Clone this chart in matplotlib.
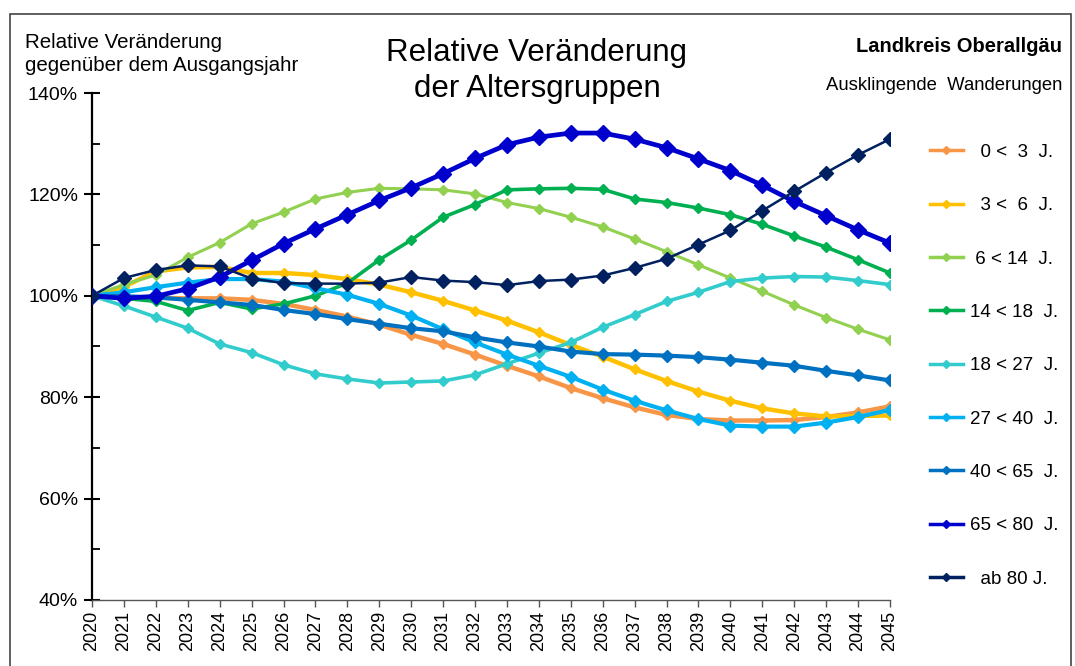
import numpy as np
import matplotlib
matplotlib.use("Agg")
import matplotlib.pyplot as plt
from matplotlib.ticker import MultipleLocator, FuncFormatter
from matplotlib.patches import Rectangle

plt.rcParams['font.family'] = ['Liberation Sans', 'DejaVu Sans']

years = list(range(2020, 2046))

# Relative Veränderung in % (Ausgangsjahr 2020 = 100 %)
a_0_3 = [100, 99.8, 99.6, 99.5, 99.5, 99.2, 98.4, 97.2, 95.9, 94.3, 92.3, 90.5, 88.4,
         86.2, 84.1, 81.8, 79.8, 78.0, 76.5, 75.7, 75.4, 75.4, 75.5, 76.1, 77.0, 78.2]
a_3_6 = [100, 101.8, 104.8, 105.6, 105.7, 104.5, 104.5, 104.1, 103.3, 102.2, 100.7, 99.0, 97.1,
         95.1, 92.8, 90.3, 88.0, 85.5, 83.2, 81.1, 79.3, 77.8, 76.8, 76.2, 76.3, 76.4]
a_6_14 = [100, 102.2, 104.1, 107.6, 110.5, 114.2, 116.5, 119.1, 120.4, 121.2, 121.1, 120.9, 120.1,
          118.4, 117.2, 115.5, 113.6, 111.2, 108.7, 106.1, 103.5, 100.9, 98.2, 95.7, 93.4, 91.3]
a_14_18 = [100, 99.5, 98.9, 97.1, 98.7, 97.4, 98.4, 100.0, 102.5, 107.1, 111.0, 115.5, 118.0,
           120.9, 121.1, 121.2, 121.0, 119.1, 118.4, 117.3, 116.0, 114.1, 111.8, 109.6, 107.1, 104.5]
a_18_27 = [100, 98.0, 95.8, 93.6, 90.5, 88.8, 86.4, 84.6, 83.6, 82.8, 83.0, 83.2, 84.4,
           86.6, 88.7, 90.8, 93.8, 96.3, 98.9, 100.7, 102.8, 103.5, 103.8, 103.7, 103.0, 102.2]
a_27_40 = [100, 100.7, 101.7, 102.6, 103.3, 103.3, 102.8, 101.5, 100.2, 98.4, 96.1, 93.4, 90.8,
           88.4, 86.2, 84.0, 81.5, 79.3, 77.4, 75.7, 74.4, 74.2, 74.2, 75.0, 76.1, 77.5]
a_40_65 = [100, 99.9, 99.7, 99.2, 98.7, 98.2, 97.2, 96.4, 95.4, 94.5, 93.6, 93.0, 91.8,
           90.8, 90.0, 89.0, 88.5, 88.4, 88.2, 87.9, 87.4, 86.8, 86.2, 85.2, 84.3, 83.3]
a_65_80 = [100, 99.5, 99.9, 101.4, 103.7, 107.0, 110.3, 113.2, 116.0, 118.8, 121.3, 124.1, 127.1,
           129.8, 131.3, 132.1, 132.1, 130.9, 129.2, 127.0, 124.7, 121.8, 118.6, 115.8, 113.0, 110.4]
a_80 = [100, 103.5, 105.1, 106.0, 105.8, 103.4, 102.5, 102.4, 102.4, 102.6, 103.7, 103.0, 102.7,
        102.1, 102.9, 103.2, 104.0, 105.5, 107.3, 110.1, 112.9, 116.8, 120.6, 124.3, 127.8, 130.9]

labels = ["  0 <  3  J.", "  3 <  6  J.", " 6 < 14  J.", "14 < 18  J.", "18 < 27  J.",
          "27 < 40  J.", "40 < 65  J.", "65 < 80  J.", "  ab 80 J."]
series = [a_0_3, a_3_6, a_6_14, a_14_18, a_18_27, a_27_40, a_40_65, a_65_80, a_80]
colors = ["#F79646", "#FFC000", "#92D050", "#00B050", "#33CCCC",
          "#00B0F0", "#0070C0", "#0000CC", "#002060"]
widths = [3.2, 3.2, 2.2, 2.6, 2.6, 3.0, 3.0, 3.4, 1.8]
msizes = [5.5, 5.5, 5.5, 5.5, 5.5, 6, 6, 8, 7]

fig = plt.figure(figsize=(10.75, 6.66), dpi=100)
ax = fig.add_axes([92/1075, 1 - 600/666, (890 - 92)/1075, (600 - 93)/666])

for vals, lab, col, lw, ms in zip(series, labels, colors, widths, msizes):
    ax.plot(years, vals, color=col, lw=lw, marker='D', ms=ms, label=lab,
            markeredgecolor=col, zorder=3)

ax.set_xlim(2020, 2045)
ax.set_ylim(40, 140)
ax.yaxis.set_major_locator(MultipleLocator(20))
ax.yaxis.set_minor_locator(MultipleLocator(10))
ax.yaxis.set_major_formatter(FuncFormatter(lambda v, p: f"{v:.0f}%"))
ax.set_xticks(years)
ax.set_xticklabels([str(y) for y in years], rotation=90)
for s in ['top', 'right']:
    ax.spines[s].set_visible(False)
ax.spines['left'].set_linewidth(1.6)
ax.spines['bottom'].set_linewidth(1.0)
ax.spines['bottom'].set_color('#555555')
ax.tick_params(axis='y', which='major', direction='inout', length=12, width=1.5, labelsize=14, pad=4)
ax.tick_params(axis='y', which='minor', direction='in', length=6, width=1.3)
ax.tick_params(axis='x', which='major', direction='out', length=5, width=1, color='#555555',
               labelsize=13, pad=3)

leg = ax.legend(loc='upper left', bbox_to_anchor=(913/1075, 1 - 127/666),
                bbox_transform=fig.transFigure, frameon=False, fontsize=13.5,
                labelspacing=1.93, handlelength=1.75, handletextpad=0.4)
for h in leg.legend_handles:
    h.set_markersize(4)
    h.set_linewidth(2.5)

fig.text(25/1075, 1 - 54/666, "Relative Veränderung\ngegenüber dem Ausgangsjahr",
         fontsize=14.8, va='center', ha='left', linespacing=1.3)
fig.text(537/1075, 1 - 71/666, "Relative Veränderung\nder Altersgruppen",
         fontsize=22.5, va='center', ha='center', linespacing=1.3)
fig.text(1062/1075, 1 - 47/666, "Landkreis Oberallgäu", fontsize=14.5, fontweight='bold',
         ha='right', va='center')
fig.text(1062/1075, 1 - 85/666, "Ausklingende  Wanderungen", fontsize=13.3,
         ha='right', va='center')

fig.add_artist(Rectangle((10/1075, -0.1), (1071 - 10)/1075, 1.1 - 14/666,
                         transform=fig.transFigure, fill=False, lw=1.2, ec='#444444'))

fig.savefig("out.png", dpi=100)
